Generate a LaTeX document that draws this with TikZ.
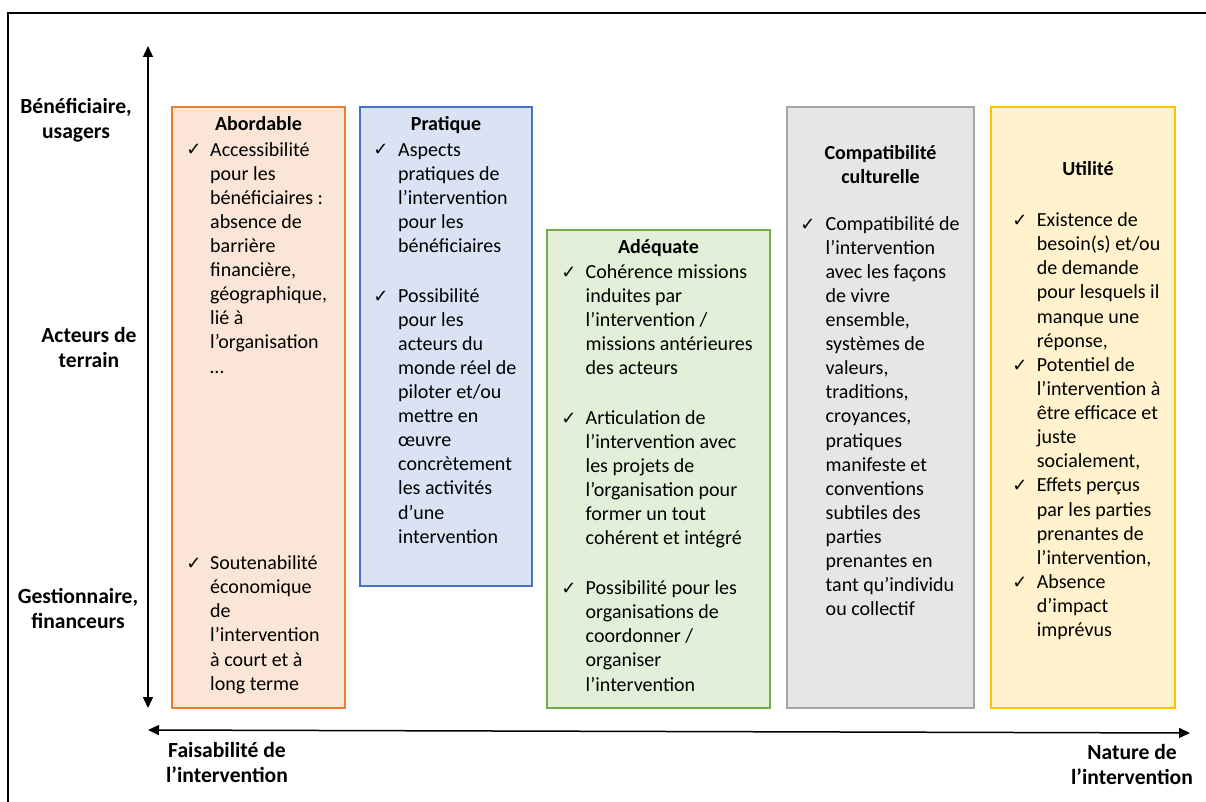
\documentclass[tikz,border=0pt]{standalone}
\usepackage{fontspec}
\setmainfont{Carlito}
\newfontfamily\symfont{DejaVu Sans}
\usetikzlibrary{arrows.meta}
\definecolor{orD}{HTML}{ED7D31}\definecolor{orF}{HTML}{FBE5D6}
\definecolor{blD}{HTML}{4472C4}\definecolor{blF}{HTML}{DAE3F3}
\definecolor{grD}{HTML}{70AD47}\definecolor{grF}{HTML}{E2F0D9}
\definecolor{gyD}{HTML}{A5A5A5}\definecolor{gyF}{HTML}{E7E6E6}
\definecolor{ydD}{HTML}{FFC000}\definecolor{ydF}{HTML}{FFF2CC}
\newcommand\bodyfont{\fontsize{20}{24.1}\selectfont}
\newcommand\labfont{\bfseries\fontsize{21.6}{25.5}\selectfont}
\begin{document}
\begin{tikzpicture}[x=1pt,y=-1pt,
  panel/.style={draw=#1D, fill=#1F, line width=2pt, inner sep=0pt},
  title/.style={anchor=base, inner sep=0pt, font=\bfseries\bodyfont},
  titletwo/.style={anchor=north, inner sep=0pt, align=center, font=\bfseries\bodyfont},
  txt/.style={anchor=north west, inner sep=0pt, align=left, font=\bodyfont},
  chk/.style={anchor=base, inner sep=0pt, font=\symfont\fontsize{18}{18}\selectfont},
  lab/.style={anchor=north, inner sep=0pt, align=center, font=\labfont},
  axis/.style={line width=1.5pt, {Triangle[length=11pt,width=10pt]}-{Triangle[length=11pt,width=10pt]}},
  frame/.style={line width=2pt}
]
\useasboundingbox (0,0) rectangle (1206,802);

% frame
\coordinate (f1) at (8,802);
\coordinate (f2) at (8,13);
\coordinate (f3) at (1206,13);
\draw[frame] (f1) -- (f2) -- (f3);

% axes
\coordinate (vt) at (148,46);
\coordinate (vb) at (148,708);
\coordinate (hl) at (148,730);
\coordinate (hr) at (1190,733);
\draw[axis] (vb) -- (vt);
\draw[axis] (hl) -- (hr);

% axis labels
\node[lab] (lben) at (76,95.15) {\strut Bénéficiaire,\\usagers};
\node[lab] (lact) at (89,324.15) {\strut Acteurs de\\terrain};
\node[lab] (lges) at (78,585.15) {\strut Gestionnaire,\\financeurs};
\node[lab] (lfai) at (227,739.15) {\strut Faisabilité de\\l’intervention};
\node[lab] (lnat) at (1132,741.15) {\strut Nature de\\l’intervention};

% Abordable
\node[panel=or, minimum width=173pt, minimum height=601pt] (pA) at (258.5,407.5) {};
\node[title] (hA) at (258.5,131) {Abordable};
\node[chk] (cA1) at (194,156) {✓};
\node[txt] (tA1) at (210,139.1) {\strut Accessibilité\\pour les\\bénéficiaires :\\absence de\\barrière\\financière,\\géographique,\\lié à\\l’organisation\\…};
\node[chk] (cA2) at (194,569.5) {✓};
\node[txt] (tA2) at (210,552.6) {\strut Soutenabilité\\économique\\de\\l’intervention\\à court et à\\long terme};

% Pratique
\node[panel=bl, minimum width=172pt, minimum height=479pt] (pP) at (446,346.5) {};
\node[title] (hP) at (446,131) {Pratique};
\node[chk] (cP1) at (381,156) {✓};
\node[txt] (tP1) at (398,139.1) {\strut Aspects\\pratiques de\\l’intervention\\pour les\\bénéficiaires};
\node[chk] (cP2) at (381,302) {✓};
\node[txt] (tP2) at (398,285.1) {\strut Possibilité\\pour les\\acteurs du\\monde réel de\\piloter et/ou\\mettre en\\œuvre\\concrètement\\les activités\\d’une\\intervention};

% Adequate
\node[panel=gr, minimum width=223pt, minimum height=478pt] (pQ) at (658.5,469) {};
\node[title] (hQ) at (658.5,253) {Adéquate};
\node[chk] (cQ1) at (569,278) {✓};
\node[txt] (tQ1) at (585.5,261.1) {\strut Cohérence missions\\induites par\\l’intervention /\\missions antérieures\\des acteurs};
\node[chk] (cQ2) at (569,424) {✓};
\node[txt] (tQ2) at (585.5,407.1) {\strut Articulation de\\l’intervention avec\\les projets de\\l’organisation pour\\former un tout\\cohérent et intégré};
\node[chk] (cQ3) at (569,594.5) {✓};
\node[txt] (tQ3) at (585.5,577.6) {\strut Possibilité pour les\\organisations de\\coordonner /\\organiser\\l’intervention};

% Compatibilite culturelle
\node[panel=gy, minimum width=187pt, minimum height=601pt] (pC) at (880.5,407.5) {};
\node[titletwo] (hC) at (880.5,142.1) {\strut Compatibilité\\culturelle};
\node[chk] (cC1) at (808,230) {✓};
\node[txt] (tC1) at (825.5,213.1) {\strut Compatibilité de\\l’intervention\\avec les façons\\de vivre\\ensemble,\\systèmes de\\valeurs,\\traditions,\\croyances,\\pratiques\\manifeste et\\conventions\\subtiles des\\parties\\prenantes en\\tant qu’individu\\ou collectif};

% Utilite
\node[panel=yd, minimum width=184pt, minimum height=601pt] (pU) at (1083,407.5) {};
\node[title] (hU) at (1088,176) {Utilité};
\node[chk] (cU1) at (1020,226.5) {✓};
\node[txt] (tU1) at (1036.7,209.6) {\strut Existence de\\besoin(s) et/ou\\de demande\\pour lesquels il\\manque une\\réponse,};
\node[chk] (cU2) at (1020,371.3) {✓};
\node[txt] (tU2) at (1036.7,354.4) {\strut Potentiel de\\l’intervention à\\être efficace et\\juste\\socialement,};
\node[chk] (cU3) at (1020,491.8) {✓};
\node[txt] (tU3) at (1036.7,474.9) {\strut Effets perçus\\par les parties\\prenantes de\\l’intervention,};
\node[chk] (cU4) at (1020,588.2) {✓};
\node[txt] (tU4) at (1036.7,571.3) {\strut Absence\\d’impact\\imprévus};
\end{tikzpicture}
\end{document}
